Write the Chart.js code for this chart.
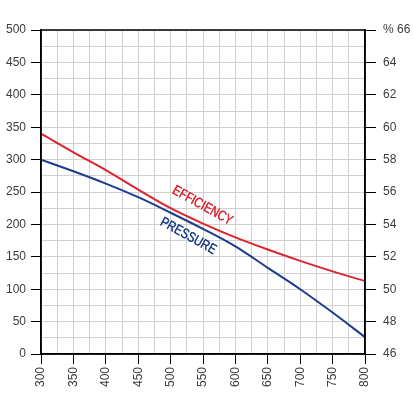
<!DOCTYPE html>
<html>
<head>
<meta charset="utf-8">
<script src="https://cdn.jsdelivr.net/npm/chart.js@4"></script>
<style>
  body { margin: 0; background: #fff; }
  canvas { display: block; }
</style>
</head>
<body>
<canvas id="pumpChart" width="413" height="395"></canvas>
<script>
// Pump curve data
const flowRate = [300, 350, 400, 450, 500, 550, 600, 650, 700, 750, 800];
const pressure = [300, 282, 263, 242, 218, 193, 166, 133, 100, 64, 26];
const efficiency = [59.6, 58.45, 57.35, 56.15, 55.0, 54.05, 53.2, 52.45, 51.75, 51.1, 50.5];

const pressureLabel = 'PRESSURE';
const efficiencyLabel = 'EFFICIENCY';

const textColor = '#3c3c3c';
const red = '#dc2430';
const blue = '#1b3d8c';

// curve names written along the lines
const curveText = {
  id: 'curveText',
  afterDatasetsDraw(chart) {
    const c = chart.ctx;
    const x = chart.scales.x;
    const y = chart.scales.y;
    const items = [
      { text: efficiencyLabel, color: red, px: x.getPixelForValue(549), py: y.getPixelForValue(229) },
      { text: pressureLabel, color: blue, px: x.getPixelForValue(527), py: y.getPixelForValue(182) }
    ];
    c.save();
    c.font = '14px "Liberation Sans", Arial, sans-serif';
    c.textAlign = 'center';
    c.textBaseline = 'middle';
    items.forEach(it => {
      c.save();
      c.translate(it.px, it.py);
      c.rotate(29 * Math.PI / 180);
      c.scale(0.8, 1);
      c.fillStyle = it.color;
      c.fillText(it.text, 0, 0);
      c.fillText(it.text, 0.4, 0);
      c.restore();
    });
    c.restore();
  }
};

// black frame round the plot
const frame = {
  id: 'frame',
  afterDraw(chart) {
    const a = chart.chartArea;
    const c = chart.ctx;
    c.save();
    c.strokeStyle = '#000';
    c.lineWidth = 1.5;
    c.strokeRect(a.left, a.top, a.right - a.left, a.bottom - a.top);
    c.restore();
  }
};

const ctx = document.getElementById('pumpChart').getContext('2d');
const pumpChart = new Chart(ctx, {
  type: 'line',
  data: {
    datasets: [{
      label: efficiencyLabel,
      data: flowRate.map((f, i) => ({ x: f, y: efficiency[i] })),
      yAxisID: 'y1',
      borderColor: red,
      borderWidth: 2,
      pointRadius: 0,
      cubicInterpolationMode: 'monotone',
      fill: false
    }, {
      label: pressureLabel,
      data: flowRate.map((f, i) => ({ x: f, y: pressure[i] })),
      yAxisID: 'y',
      borderColor: blue,
      borderWidth: 2,
      pointRadius: 0,
      cubicInterpolationMode: 'monotone',
      fill: false
    }]
  },
  options: {
    responsive: false,
    animation: false,
    layout: { padding: { top: 30, left: 0, right: 0, bottom: 0 } },
    plugins: { legend: { display: false }, tooltip: { enabled: false } },
    scales: {
      x: {
        type: 'linear',
        min: 300,
        max: 800,
        border: { color: '#000', width: 1.5 },
        grid: {
          color: '#d0d0d0',
          tickColor: c => (c.tick && c.tick.value % 50 === 0) ? '#000' : 'rgba(0,0,0,0)',
          tickLength: 10
        },
        ticks: {
          stepSize: 25,
          autoSkip: false,
          maxRotation: 90,
          minRotation: 90,
          padding: 3,
          color: textColor,
          font: { family: '"Liberation Sans", Arial, sans-serif', size: 12 },
          callback: v => v % 50 === 0 ? String(v) : ''
        },
        afterFit: s => { s.height = 41; }
      },
      y: {
        position: 'left',
        min: 0,
        max: 500,
        border: { color: '#000', width: 1.5 },
        grid: {
          color: '#d0d0d0',
          tickColor: c => (c.tick && c.tick.value % 50 === 0) ? '#000' : 'rgba(0,0,0,0)',
          tickLength: 10
        },
        ticks: {
          stepSize: 25,
          autoSkip: false,
          padding: 5,
          color: textColor,
          font: { family: '"Liberation Sans", Arial, sans-serif', size: 12 },
          callback: v => v % 50 === 0 ? String(v) : ''
        },
        afterFit: s => { s.width = 41; }
      },
      y1: {
        position: 'right',
        min: 46,
        max: 66,
        border: { color: '#000', width: 1.5 },
        grid: {
          drawOnChartArea: false,
          tickColor: '#000',
          tickLength: 11
        },
        ticks: {
          stepSize: 2,
          padding: 7,
          color: textColor,
          font: { family: '"Liberation Sans", Arial, sans-serif', size: 12 },
          callback: v => v === 66 ? '% 66' : String(v)
        },
        afterFit: s => { s.width = 48; }
      }
    }
  },
  plugins: [curveText, frame]
});
</script>
</body>
</html>
